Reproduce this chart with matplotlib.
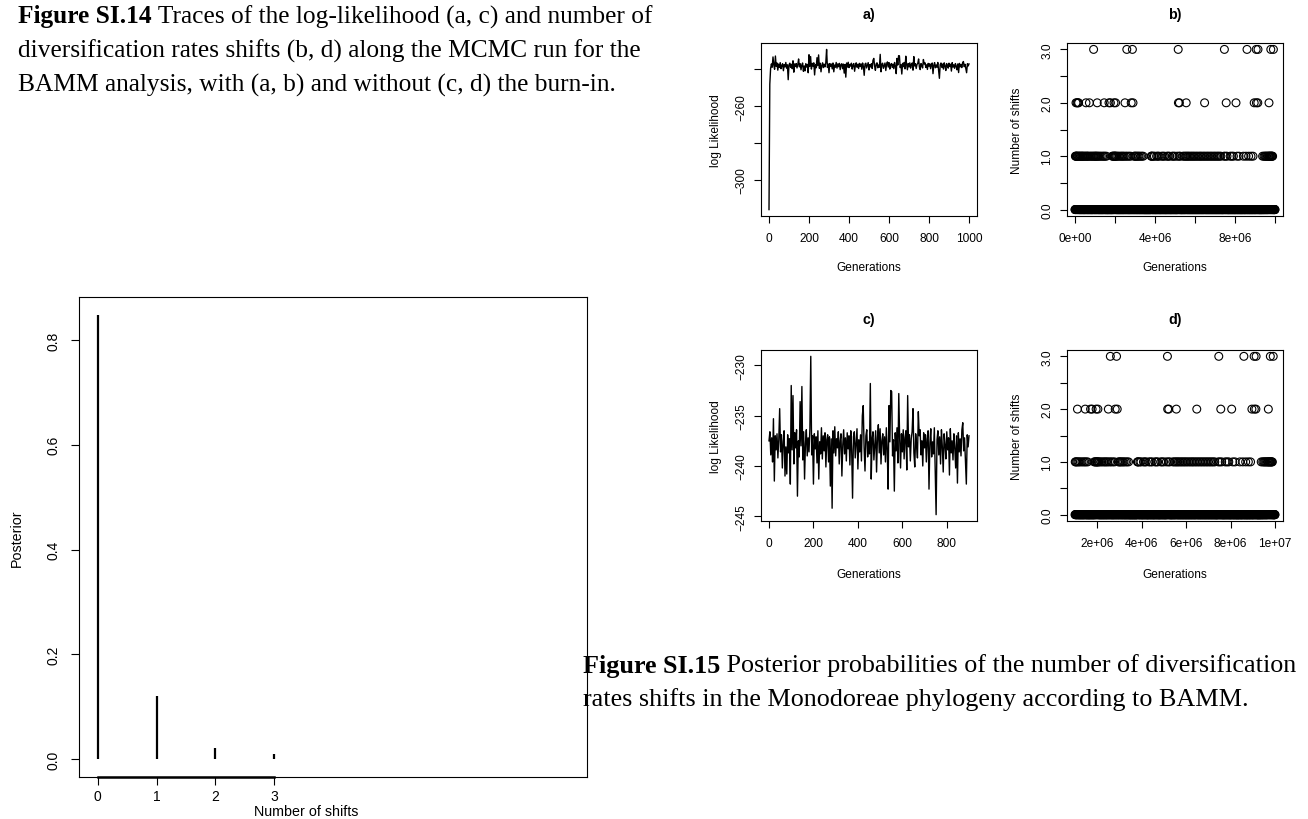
import numpy as np
import matplotlib
matplotlib.use("Agg")
import matplotlib.pyplot as plt

plt.rcParams['font.family'] = ['Liberation Sans', 'DejaVu Sans']

# posterior probability of the number of shifts
n_shifts = [0, 1, 2, 3]
posterior = [0.848, 0.121, 0.021, 0.010]

# log-likelihood, burn-in part (every 4th sample, 0..96)
loglik_burn = [-316.3, -248.0, -239.5, -237.0, -238.8, -233.2, -237.6, -239.9, -232.7, -238.3,
               -236.5, -240.4, -237.1, -238.9, -236.3, -239.6, -237.8, -236.9, -240.7, -237.4,
               -238.6, -236.2, -239.3, -237.5, -245.6]

# log-likelihood after burn-in (every 4th sample, 0..900)
loglik_post = [
    -237.5, -236.6, -238.9, -237.2, -239.6, -235.3, -241.5, -237.0, -238.4, -236.8,
    -239.2, -237.4, -234.3, -238.6, -236.9, -240.2, -237.6, -236.5, -241.0, -238.1,
    -240.8, -236.9, -238.7, -237.3, -241.8, -232.0, -238.4, -233.0, -239.8, -236.7,
    -238.2, -236.4, -243.0, -237.5, -239.1, -233.6, -238.0, -232.1, -239.4, -236.6,
    -241.3, -237.8, -236.4, -239.0, -237.2, -238.6, -236.3, -229.1, -238.9, -237.0,
    -241.8, -236.8, -238.3, -237.1, -239.7, -236.5, -241.3, -237.6, -238.8, -236.2,
    -239.3, -237.0, -238.5, -236.7, -240.1, -237.4, -236.9, -239.6, -237.1, -242.0,
    -237.3, -244.2, -236.5, -238.7, -236.1, -239.0, -237.3, -238.2, -236.6, -239.8,
    -237.5, -236.8, -241.0, -237.9, -236.4, -238.8, -237.2, -239.5, -236.7, -238.3,
    -237.0, -239.9, -236.5, -238.4, -243.2, -237.1, -236.6, -239.2, -237.8, -236.3,
    -240.3, -237.4, -238.6, -236.9, -239.5, -235.0, -234.0, -238.2, -240.5, -237.0,
    -236.4, -239.1, -237.6, -238.8, -231.8, -241.3, -237.3, -236.6, -239.4, -237.9,
    -236.5, -240.6, -237.2, -235.9, -238.7, -236.3, -239.8, -237.5, -236.8, -238.9,
    -237.1, -239.6, -236.2, -238.4, -242.3, -234.0, -237.6, -232.5, -232.6, -239.0,
    -237.4, -242.5, -236.7, -238.5, -236.2, -239.7, -232.8, -237.3, -240.2, -236.8,
    -238.6, -236.4, -239.3, -237.2, -236.5, -240.4, -233.0, -238.1, -236.9, -239.5,
    -237.3, -236.6, -234.3, -238.7, -240.1, -236.8, -237.9, -239.2, -234.6, -237.0,
    -236.4, -238.9, -237.5, -240.0, -236.7, -238.2, -236.9, -239.6, -237.3, -236.5,
    -242.3, -237.7, -236.3, -239.1, -237.6, -238.8, -236.2, -240.3, -244.84, -237.4,
    -236.5, -238.9, -237.1, -239.8, -236.4, -238.1, -240.6, -236.8, -237.9, -239.3,
    -236.6, -238.4, -237.2, -240.9, -236.3, -238.7, -237.5, -239.4, -236.8, -238.2,
    -240.2, -237.0, -241.7, -236.7, -238.6, -237.3, -239.0, -236.4, -235.7, -238.5,
    -237.2, -239.6, -241.8, -236.9, -238.1, -237.0]
trace_step = 4

# number of shifts: sample indices (1 sample = 1e4 generations) with 1, 2, 3 shifts
shift3_idx = [93, 259, 287, 516, 747, 860, 906, 915, 979, 992]
shift2_idx = [5, 10, 14, 18, 55, 72, 111, 146, 170, 177, 195, 203, 250, 281, 290,
              517, 522, 556, 648, 756, 805, 896, 907, 914, 970]
shift1_idx = [2, 4, 7, 9, 12, 16, 20, 23, 27, 31, 35, 38, 42, 47, 51, 56, 60, 64, 68, 75,
              80, 86, 91, 96,
              101, 104, 108, 113, 118, 124, 131, 138, 144, 150, 157,
              186, 190, 193, 197, 199, 201, 205, 209, 215, 222, 229, 235, 241, 247,
              255, 262, 270, 278,
              295, 300, 304, 309, 315, 320, 327, 334, 341,
              381, 383, 385, 392, 397, 408, 414, 420, 433, 440, 447, 460, 466, 472,
              486, 492, 499, 511, 520, 526, 540, 547, 553, 559, 565, 571,
              578, 584, 591, 597, 604, 611, 618, 625, 631, 638, 645, 652, 659, 666,
              673, 680, 687, 694, 701, 708, 715,
              722, 729, 745, 752, 760, 776, 784, 792, 810, 820, 842, 855, 868, 880, 890,
              938, 945, 950, 954, 958, 962, 966, 969, 972, 975, 977, 981, 983, 986, 988]
n_samples = 1001
sample_every = 1e4
burnin = 100

shifts = np.zeros(n_samples)
shifts[shift1_idx] = 1
shifts[shift2_idx] = 2
shifts[shift3_idx] = 3
gens = np.arange(n_samples) * sample_every

loglik_all = loglik_burn + loglik_post
x_all = np.arange(len(loglik_all)) * trace_step
x_post = np.arange(len(loglik_post)) * trace_step

W, H = 1308, 820
fig = plt.figure(figsize=(W / 100, H / 100), dpi=100)


def add_ax(left, top, right, bottom):
    return fig.add_axes([left / W, 1 - bottom / H, (right - left) / W, (bottom - top) / H])


def rstyle(ax, fs, ticklen, padx, pady):
    for s in ax.spines.values():
        s.set_linewidth(0.8)
        s.set_color('black')
    ax.tick_params(axis='x', direction='out', length=ticklen, width=0.8, labelsize=fs, pad=padx)
    ax.tick_params(axis='y', direction='out', length=ticklen, width=0.8, labelsize=fs, pad=pady)


def labels(ax, xl, yl, fs, xoff, yoff, w, h, xc=0.5):
    ax.set_xlabel(xl, fontsize=fs)
    ax.set_ylabel(yl, fontsize=fs)
    ax.xaxis.label.set_va('center')
    ax.yaxis.label.set_va('center')
    ax.xaxis.set_label_coords(xc, -xoff / h)
    ax.yaxis.set_label_coords(-yoff / w, 0.5)


def yticks_rot(ax, ticks, labs):
    ax.set_yticks(ticks)
    ax.set_yticklabels(labs, rotation=90, va='center')


small = 8.6
M = '\u2212'

# a) trace with burn-in
ax_a = add_ax(761, 44, 977, 217)
ax_a.plot(x_all, loglik_all, color='black', lw=1.0)
ax_a.margins(0.04)
ax_a.set_xticks([0, 200, 400, 600, 800, 1000])
yticks_rot(ax_a, [-240, -260, -280, -300], ['', M + '260', '', M + '300'])
rstyle(ax_a, small, 4.8, 7, 5)
labels(ax_a, 'Generations', 'log Likelihood', small, 51, 45, 216, 173)
ax_a.text(0.5, 1 + 29 / 173, 'a)', transform=ax_a.transAxes, ha='center', va='center',
          fontsize=10.3, fontweight='bold')

# b) number of shifts with burn-in
ax_b = add_ax(1067, 44, 1283, 217)
ax_b.scatter(gens, shifts, s=32, facecolors='none', edgecolors='black', linewidths=0.8)
ax_b.margins(0.04)
ax_b.set_xticks([0, 2e6, 4e6, 6e6, 8e6, 1e7])
ax_b.set_xticklabels(['0e+00', '', '4e+06', '', '8e+06', ''])
yticks_rot(ax_b, [0, 0.5, 1, 1.5, 2, 2.5, 3], ['0.0', '', '1.0', '', '2.0', '', '3.0'])
rstyle(ax_b, small, 4.8, 7, 5)
labels(ax_b, 'Generations', 'Number of shifts', small, 51, 50, 216, 173)
ax_b.text(0.5, 1 + 29 / 173, 'b)', transform=ax_b.transAxes, ha='center', va='center',
          fontsize=10.3, fontweight='bold')

# c) trace without burn-in
ax_c = add_ax(761, 351, 977, 522)
ax_c.plot(x_post, loglik_post, color='black', lw=1.0)
ax_c.margins(0.04)
ax_c.set_xticks([0, 200, 400, 600, 800])
yticks_rot(ax_c, [-230, -235, -240, -245], [M + '230', M + '235', M + '240', M + '245'])
rstyle(ax_c, small, 4.8, 7, 5)
labels(ax_c, 'Generations', 'log Likelihood', small, 53, 45, 216, 171)
ax_c.text(0.5, 1 + 31 / 171, 'c)', transform=ax_c.transAxes, ha='center', va='center',
          fontsize=10.3, fontweight='bold')

# d) number of shifts without burn-in
ax_d = add_ax(1067, 351, 1283, 522)
ax_d.scatter(gens[burnin:], shifts[burnin:], s=32, facecolors='none', edgecolors='black',
             linewidths=0.8)
ax_d.margins(0.04)
ax_d.set_xticks([2e6, 4e6, 6e6, 8e6, 1e7])
ax_d.set_xticklabels(['2e+06', '4e+06', '6e+06', '8e+06', '1e+07'])
yticks_rot(ax_d, [0, 0.5, 1, 1.5, 2, 2.5, 3], ['0.0', '', '1.0', '', '2.0', '', '3.0'])
rstyle(ax_d, small, 4.8, 7, 5)
labels(ax_d, 'Generations', 'Number of shifts', small, 53, 50, 216, 171)
ax_d.text(0.5, 1 + 31 / 171, 'd)', transform=ax_d.transAxes, ha='center', va='center',
          fontsize=10.3, fontweight='bold')

# posterior of the number of shifts
ax_p = add_ax(79, 298, 587, 778)
ax_p.vlines(n_shifts, 0, posterior, color='black', lw=1.6)
ax_p.margins(y=0.04)
ax_p.set_xlim(-0.32, 8.32)
ax_p.set_xticks(n_shifts)
yticks_rot(ax_p, [0, 0.2, 0.4, 0.6, 0.8], ['0.0', '0.2', '0.4', '0.6', '0.8'])
rstyle(ax_p, 10, 6, 3, 7.5)
ax_p.plot([0, 3], [0, 0], transform=ax_p.get_xaxis_transform(), color='black', lw=1.8,
          clip_on=False)
labels(ax_p, 'Number of shifts', 'Posterior', 10.3, 34, 62, 508, 480, xc=(306 - 79) / 508)

# captions
renderer = fig.canvas.get_renderer()


def caption(x, y, bold, rest, size):
    t1 = fig.text(x / W, 1 - y / H, bold, fontsize=size, fontweight='bold',
                  family='Liberation Serif', va='center')
    w1 = t1.get_window_extent(renderer).width if bold else 0
    t2 = fig.text((x + w1) / W, 1 - y / H, rest, fontsize=size,
                  family='Liberation Serif', va='center')
    return t1, t2


def fit_size(bold, rest, target):
    t1, t2 = caption(0, 0, bold, rest, 16)
    width = t1.get_window_extent(renderer).width + t2.get_window_extent(renderer).width
    t1.remove()
    t2.remove()
    return 16 * target / width


size1 = fit_size('Figure SI.14', ' Traces of the log-likelihood (a, c) and number of', 634)
size2 = fit_size('Figure SI.15', ' Posterior probabilities of the number of diversification', 714)

caption(18, 17, 'Figure SI.14', ' Traces of the log-likelihood (a, c) and number of', size1)
caption(18, 51, '', 'diversification rates shifts (b, d) along the MCMC run for the', size1)
caption(18, 85, '', 'BAMM analysis, with (a, b) and without (c, d) the burn-in.', size1)
caption(583, 666, 'Figure SI.15', ' Posterior probabilities of the number of diversification', size2)
caption(583, 700, '', 'rates shifts in the Monodoreae phylogeny according to BAMM.', size2)

fig.savefig('out.png', dpi=100)
